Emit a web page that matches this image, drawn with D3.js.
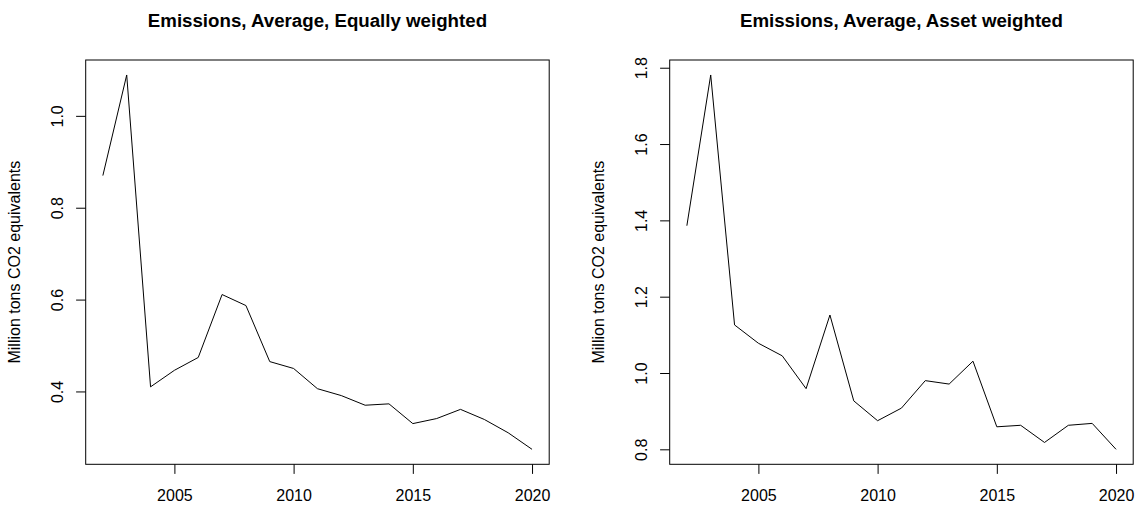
<!DOCTYPE html>
<html>
<head>
<meta charset="utf-8">
<script src="https://cdn.jsdelivr.net/npm/d3@7"></script>
<style>
  body { margin: 0; background: #fff; }
  text { font-family: "Liberation Sans", Arial, Helvetica, sans-serif; fill: #000; }
</style>
</head>
<body>
<svg id="viz" width="1140" height="508"></svg>
<script>
// years on the x axis
let years = [2002, 2003, 2004, 2005, 2006, 2007, 2008, 2009, 2010, 2011,
             2012, 2013, 2014, 2015, 2016, 2017, 2018, 2019, 2020];

// average emissions, million tons CO2 equivalents
let equalWeighted = [0.870, 1.089, 0.410, 0.446, 0.474, 0.611, 0.587, 0.465, 0.450, 0.406,
                     0.391, 0.370, 0.373, 0.330, 0.341, 0.361, 0.339, 0.310, 0.274];
let assetWeighted = [1.386, 1.781, 1.126, 1.078, 1.045, 0.959, 1.152, 0.927, 0.875, 0.908,
                     0.980, 0.971, 1.031, 0.859, 0.863, 0.818, 0.863, 0.868, 0.800];

let xTicks = [2005, 2010, 2015, 2020];
let yTicksEqual = [0.4, 0.6, 0.8, 1.0];
let yTicksAsset = [0.8, 1.0, 1.2, 1.4, 1.6, 1.8];

let titles = ["Emissions, Average, Equally weighted", "Emissions, Average, Asset weighted"];
let yLabel = "Million tons CO2 equivalents";

let vizArea = d3.select("#viz");

// R style range: data extent plus 4% on each side
function padded(ext) {
  let p = (ext[1] - ext[0]) * 0.04;
  return [ext[0] - p, ext[1] + p];
}

function drawPanel(left, right, values, yTicks, title) {
  let top = 60, bottom = 464.3, tick = 9.6;
  let x = d3.scaleLinear().domain(padded(d3.extent(years))).range([left, right]);
  let y = d3.scaleLinear().domain(padded(d3.extent(values))).range([bottom, top]);
  let g = vizArea.append("g");

  g.append("text")
    .attr("x", (left + right) / 2)
    .attr("y", 26.7)
    .attr("text-anchor", "middle")
    .style("font-size", "18.7px")
    .style("font-weight", "bold")
    .text(title);

  let xAxis = g.append("g")
    .attr("transform", "translate(0," + bottom + ")")
    .call(d3.axisBottom(x).tickValues(xTicks).tickSize(tick).tickFormat(d3.format("d")));
  xAxis.select(".domain").remove();
  xAxis.selectAll("line").attr("stroke", "#000");
  xAxis.selectAll("text")
    .attr("y", 36.4).attr("dy", 0)
    .style("font-size", "16px").style("font-family", "Liberation Sans, Arial, sans-serif");

  let yAxis = g.append("g")
    .attr("transform", "translate(" + left + ",0)")
    .call(d3.axisLeft(y).tickValues(yTicks).tickSize(tick).tickFormat(d3.format(".1f")));
  yAxis.select(".domain").remove();
  yAxis.selectAll("line").attr("stroke", "#000");
  yAxis.selectAll("text")
    .attr("transform", "rotate(-90)")
    .attr("x", 0).attr("y", -22.5).attr("dy", 0)
    .attr("text-anchor", "middle")
    .style("font-size", "16px").style("font-family", "Liberation Sans, Arial, sans-serif");

  g.append("text")
    .attr("transform", "translate(" + (left - 65.7) + "," + ((top + bottom) / 2) + ") rotate(-90)")
    .attr("text-anchor", "middle")
    .style("font-size", "16px")
    .text(yLabel);

  g.append("path")
    .datum(values)
    .attr("fill", "none")
    .attr("stroke", "#000")
    .attr("stroke-width", 1)
    .attr("d", d3.line().x((d, i) => x(years[i])).y(d => y(d)));

  g.append("rect")
    .attr("x", left).attr("y", top)
    .attr("width", right - left).attr("height", bottom - top)
    .attr("fill", "none")
    .attr("stroke", "#000")
    .attr("stroke-width", 1);
}

drawPanel(85.7, 549.2, equalWeighted, yTicksEqual, titles[0]);
drawPanel(669.7, 1133.2, assetWeighted, yTicksAsset, titles[1]);
</script>
</body>
</html>
